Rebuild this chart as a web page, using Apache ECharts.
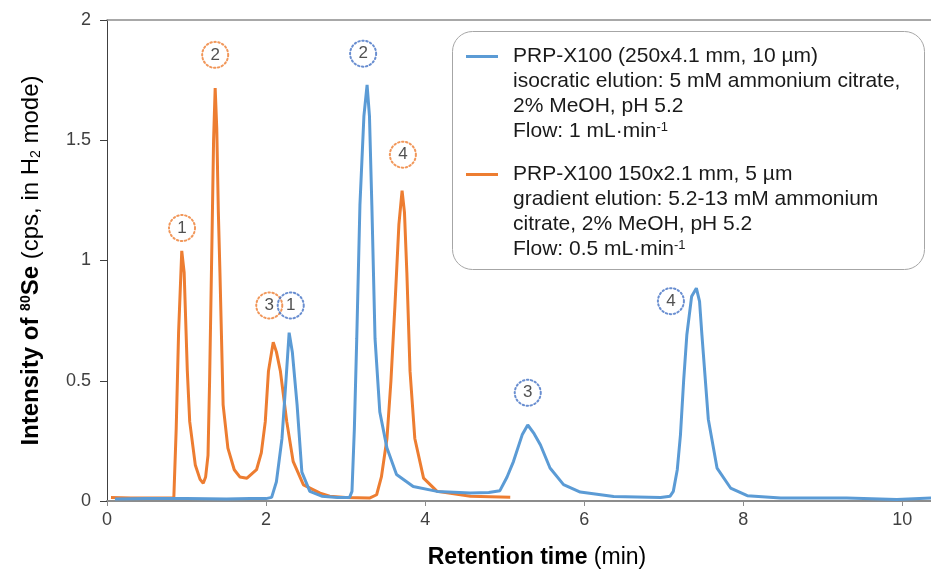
<!DOCTYPE html>
<html>
<head>
<meta charset="utf-8">
<script src="https://cdn.jsdelivr.net/npm/echarts@6/dist/echarts.min.js"></script>
<style>
  html, body { margin: 0; padding: 0; background: #fff; }
  #chart { width: 931px; height: 574px; }
</style>
</head>
<body>
<div id="chart"></div>
<script>
// [retention time (min), intensity]
const blueTrace = [
  [0.1, 0.008], [0.5, 0.01], [1.0, 0.01], [1.5, 0.008], [1.8, 0.01], [2.0, 0.01],
  [2.07, 0.015], [2.13, 0.08], [2.2, 0.26], [2.25, 0.5], [2.29, 0.70], [2.33, 0.62],
  [2.39, 0.40], [2.45, 0.12], [2.55, 0.04], [2.7, 0.02], [2.9, 0.015], [3.05, 0.015],
  [3.08, 0.04], [3.11, 0.3], [3.14, 0.675], [3.18, 1.23], [3.23, 1.6], [3.27, 1.73],
  [3.3, 1.6], [3.33, 1.23], [3.37, 0.675], [3.43, 0.37], [3.52, 0.22], [3.64, 0.11],
  [3.85, 0.06], [4.15, 0.04], [4.57, 0.033], [4.8, 0.035], [4.94, 0.043], [5.03, 0.1],
  [5.11, 0.164], [5.22, 0.275], [5.29, 0.316], [5.37, 0.28], [5.45, 0.233], [5.57, 0.137],
  [5.74, 0.068], [5.95, 0.037], [6.37, 0.019], [6.96, 0.015], [7.08, 0.02], [7.12, 0.04],
  [7.17, 0.13], [7.21, 0.275], [7.25, 0.5], [7.29, 0.69], [7.35, 0.85], [7.41, 0.885],
  [7.45, 0.83], [7.48, 0.69], [7.56, 0.34], [7.67, 0.137], [7.84, 0.054], [8.05, 0.022],
  [8.47, 0.012], [9.3, 0.012], [9.93, 0.006], [10.36, 0.012]
];
const orangeTrace = [
  [0.05, 0.015], [0.3, 0.012], [0.6, 0.012], [0.84, 0.012], [0.87, 0.3], [0.9, 0.7],
  [0.94, 1.04], [0.97, 0.95], [1.01, 0.54], [1.04, 0.33], [1.11, 0.15], [1.17, 0.09],
  [1.21, 0.074], [1.24, 0.1], [1.27, 0.19], [1.29, 0.5], [1.32, 1.09], [1.34, 1.5],
  [1.36, 1.717], [1.38, 1.55], [1.40, 1.2], [1.42, 0.95], [1.46, 0.40], [1.52, 0.22],
  [1.6, 0.13], [1.67, 0.10], [1.76, 0.095], [1.88, 0.13], [1.94, 0.2], [1.99, 0.33],
  [2.03, 0.54], [2.09, 0.66], [2.13, 0.62], [2.18, 0.54], [2.26, 0.33], [2.34, 0.165],
  [2.47, 0.067], [2.68, 0.033], [2.8, 0.02], [3.0, 0.015], [3.3, 0.012], [3.39, 0.026],
  [3.45, 0.1], [3.52, 0.26], [3.57, 0.5], [3.62, 0.81], [3.67, 1.15], [3.71, 1.29],
  [3.74, 1.2], [3.77, 0.95], [3.81, 0.54], [3.87, 0.26], [3.98, 0.095], [4.15, 0.04],
  [4.57, 0.02], [5.07, 0.016]
];

// peak numbers in dotted circles: [time, intensity, label]
const orangePeakTags = [[0.943, 1.135, '1'], [1.36, 1.855, '2'], [2.04, 0.813, '3'], [3.72, 1.44, '4']];
const bluePeakTags = [[2.31, 0.813, '1'], [3.22, 1.86, '2'], [5.29, 0.45, '3'], [7.09, 0.831, '4']];

const xTicks = [0, 2, 4, 6, 8, 10];

const blueName = 'PRP-X100 (250x4.1 mm, 10 µm)';
const orangeName = 'PRP-X100 150x2.1 mm, 5 µm';
const blueNotes = ['isocratic elution: 5 mM ammonium citrate,', '2% MeOH, pH 5.2', 'Flow: 1 mL·min{sup|-1}'];
const orangeNotes = ['gradient elution: 5.2-13 mM ammonium', 'citrate, 2% MeOH, pH 5.2', 'Flow: 0.5 mL·min{sup|-1}'];

const BLUE = '#5b9bd5';
const ORANGE = '#ed7d31';
const FONT = '"Liberation Sans", Arial, sans-serif';
const TEXT = '#1a1a1a';

const noteRich = {
  sup: { fontSize: 13, verticalAlign: 'top', padding: [2, 0, 0, 0], color: TEXT, fontFamily: FONT }
};

function tagSeries(tags, color) {
  return {
    type: 'scatter',
    data: tags,
    symbol: 'circle',
    symbolSize: 26,
    z: 5,
    itemStyle: {
      color: 'rgba(255,255,255,0)',
      borderColor: color,
      borderWidth: 2,
      borderType: [1.5, 2.5],
      borderCap: 'round'
    },
    label: {
      show: true,
      position: 'inside',
      formatter: p => p.data[2],
      color: '#262626',
      fontSize: 17,
      fontFamily: FONT
    },
    emphasis: { disabled: true },
    tooltip: { show: false }
  };
}

const chart = echarts.init(document.getElementById('chart'));
chart.setOption({
  animation: false,
  textStyle: { fontFamily: FONT },
  grid: { left: 107, right: 0, top: 20, bottom: 71, containLabel: false },
  graphic: [{
    type: 'rect',
    shape: { x: 452.5, y: 31.5, width: 472, height: 238, r: 20 },
    style: { fill: '#fff', stroke: '#a6a6a6', lineWidth: 1 },
    z: 10
  }],
  legend: {
    orient: 'vertical',
    left: 466,
    top: 44,
    padding: 0,
    itemWidth: 32,
    itemHeight: 3,
    itemGap: 93,
    z: 20,
    data: [{ name: blueName, icon: 'rect' }, { name: orangeName, icon: 'rect' }],
    textStyle: { fontSize: 21, color: TEXT, lineHeight: 25, padding: [0, 0, 0, 10], fontFamily: FONT }
  },
  title: [
    {
      text: blueNotes.join('\n'),
      left: 513, top: 69, padding: 0, z: 20,
      textStyle: { fontSize: 21, fontWeight: 'normal', color: TEXT, lineHeight: 25, fontFamily: FONT, rich: noteRich }
    },
    {
      text: orangeNotes.join('\n'),
      left: 513, top: 187, padding: 0, z: 20,
      textStyle: { fontSize: 21, fontWeight: 'normal', color: TEXT, lineHeight: 25, fontFamily: FONT, rich: noteRich }
    }
  ],
  xAxis: [{
    type: 'value',
    min: 0,
    max: 10.36,
    axisLine: { show: true, lineStyle: { color: '#8c8c8c', width: 2 } },
    axisTick: { show: true, length: 5, customValues: xTicks, lineStyle: { color: '#8c8c8c', width: 1 } },
    axisLabel: { customValues: xTicks, color: '#404040', fontSize: 18, margin: 10, fontFamily: FONT },
    splitLine: { show: false },
    name: '{b|Retention time}{n| (min)}',
    nameLocation: 'middle',
    nameGap: 45,
    nameTextStyle: {
      padding: [0, 0, 0, 36],
      rich: {
        b: { fontSize: 23, fontWeight: 'bold', color: '#000', fontFamily: FONT },
        n: { fontSize: 23, color: '#000', fontFamily: FONT }
      }
    }
  }, {
    type: 'value',
    position: 'top',
    min: 0,
    max: 10.36,
    axisLine: { show: true, lineStyle: { color: '#8c8c8c', width: 1.5 } },
    axisTick: { show: false },
    axisLabel: { show: false },
    splitLine: { show: false }
  }],
  yAxis: {
    type: 'value',
    min: 0,
    max: 2,
    interval: 0.5,
    axisLine: { show: true, lineStyle: { color: '#404040', width: 1 } },
    axisTick: { show: true, length: 7, lineStyle: { color: '#404040' } },
    axisLabel: { color: '#404040', fontSize: 18, margin: 16, fontFamily: FONT },
    splitLine: { show: false },
    name: '{b|Intensity of }{bs|80}{b|Se}{n| (cps, in H}{sub|2}{n| mode)}',
    nameLocation: 'middle',
    nameRotate: 90,
    nameGap: 62,
    nameTextStyle: {
      lineHeight: 28,
      rich: {
        b: { fontSize: 24, fontWeight: 'bold', color: '#000', fontFamily: FONT, lineHeight: 28 },
        bs: { fontSize: 14, fontWeight: 'bold', color: '#000', fontFamily: FONT, verticalAlign: 'top', padding: [2, 0, 0, 0] },
        n: { fontSize: 24, color: '#000', fontFamily: FONT, lineHeight: 28 },
        sub: { fontSize: 14, color: '#000', fontFamily: FONT, verticalAlign: 'bottom', padding: [0, 0, 2, 0] }
      }
    }
  },
  series: [
    {
      name: blueName,
      type: 'line',
      data: blueTrace,
      showSymbol: false,
      symbol: 'none',
      lineStyle: { width: 3, color: BLUE },
      itemStyle: { color: BLUE },
      z: 3
    },
    {
      name: orangeName,
      type: 'line',
      data: orangeTrace,
      showSymbol: false,
      symbol: 'none',
      lineStyle: { width: 3, color: ORANGE },
      itemStyle: { color: ORANGE },
      z: 2
    },
    tagSeries(orangePeakTags, ORANGE),
    tagSeries(bluePeakTags, '#4472c4')
  ]
});
</script>
</body>
</html>
